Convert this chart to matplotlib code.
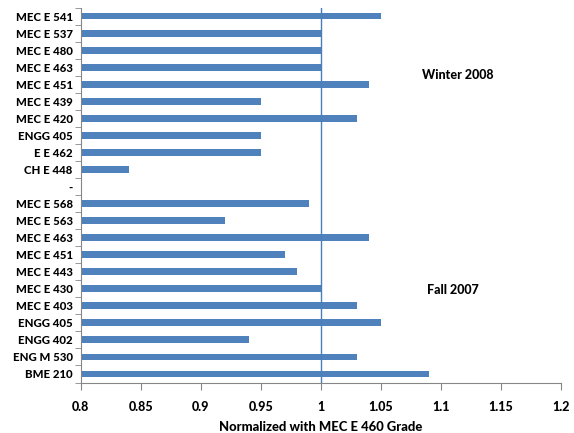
import numpy as np
import matplotlib
matplotlib.use('Agg')
import matplotlib.pyplot as plt

# courses, top to bottom as in the chart
courses = ["MEC E 541", "MEC E 537", "MEC E 480", "MEC E 463", "MEC E 451",
           "MEC E 439", "MEC E 420", "ENGG 405", "E E 462", "CH E 448", "-",
           "MEC E 568", "MEC E 563", "MEC E 463", "MEC E 451", "MEC E 443",
           "MEC E 430", "MEC E 403", "ENGG 405", "ENGG 402", "ENG M 530", "BME 210"]
ratios = [1.05, 1.00, 1.00, 1.00, 1.04, 0.95, 1.03, 0.95, 0.95, 0.84, 0.801,
          0.99, 0.92, 1.04, 0.97, 0.98, 1.00, 1.03, 1.05, 0.94, 1.03, 1.09]
xticks = [0.8, 0.85, 0.9, 0.95, 1, 1.05, 1.1, 1.15, 1.2]
xtick_labels = ["0.8", "0.85", "0.9", "0.95", "1", "1.05", "1.1", "1.15", "1.2"]

plt.rcParams['font.family'] = ['Lato', 'DejaVu Sans']
W = 900

fig = plt.figure(figsize=(5.74, 4.33), dpi=100)
ax = fig.add_axes([0.141, 0.1166, 0.836, 0.866])

pos = np.arange(len(courses))
ax.barh(pos, np.array(ratios) - 0.8, left=0.8, height=0.4, color='#4F81BD')
ax.axvline(1.0, color='#4A7EBB', lw=1)

ax.set_xlim(0.8, 1.2)
ax.set_ylim(len(courses) - 0.5, -0.5)
ax.set_xticks(xticks)
ax.set_xticklabels(xtick_labels, fontsize=9, fontweight=W)
ax.set_yticks(pos)
ax.set_yticklabels(courses, fontsize=8.2, fontweight=W)
ax.set_yticks(np.arange(len(courses) + 1) - 0.5, minor=True)
ax.tick_params(axis='y', which='major', length=0, pad=6)
ax.tick_params(axis='y', which='minor', length=4, color='#868686', direction='out')
ax.tick_params(axis='x', length=5, color='#868686', pad=8)

for s in ['top', 'right']:
    ax.spines[s].set_visible(False)
for s in ['left', 'bottom']:
    ax.spines[s].set_color('#868686')

ax.set_xlabel("Normalized with MEC E 460 Grade", fontsize=9.4, fontweight=W, labelpad=6)

ax.text(1.114, 3.46, "Winter 2008", fontsize=9, fontweight=W, ha='center', va='center')
ax.text(1.11, 16.07, "Fall 2007", fontsize=9, fontweight=W, ha='center', va='center')

plt.savefig("out.png", dpi=100)
